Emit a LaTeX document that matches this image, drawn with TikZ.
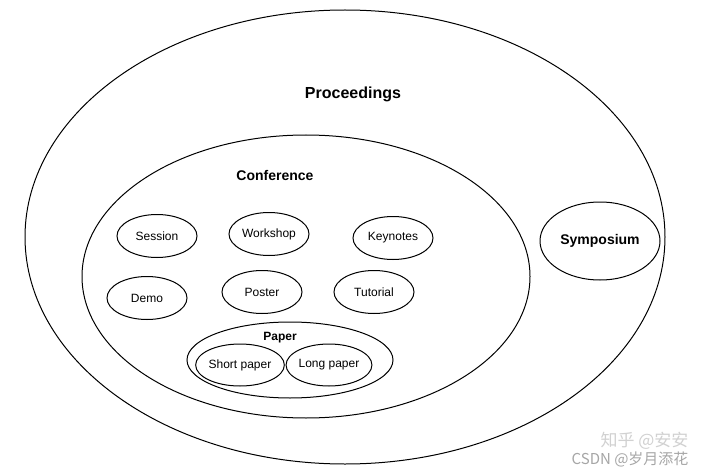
\documentclass[tikz,border=0pt]{standalone}
\usepackage{fontspec}
\setmainfont{Liberation Sans}
\newfontfamily\cjk{Noto Sans CJK SC}
\usetikzlibrary{shapes.geometric}
\begin{document}
\begin{tikzpicture}[x=1pt,y=-1pt,
  oval/.style={draw=black,line width=1pt,ellipse,inner sep=0pt},
  item/.style={oval,minimum width=80pt,minimum height=43pt,font=\fontsize{12}{14}\selectfont},
  title/.style={font=\bfseries\fontsize{14}{16}\selectfont}]
\useasboundingbox (0,0) rectangle (704,476);
\fill[white] (0,0) rectangle (704,476);
% outer
\node[oval,minimum width=640pt,minimum height=454pt] (proc) at (345,237) {};
\node[font=\bfseries\fontsize{16}{18}\selectfont] (proclbl) at (353,94) {Proceedings};
% conference
\node[oval,minimum width=448pt,minimum height=283pt] (conf) at (306,276.5) {};
\node[title] (conflbl) at (275,175) {Conference};
% symposium
\node[oval,minimum width=120pt,minimum height=78pt,title] (symp) at (600,241) {Symposium};
% items
\node[item] (session) at (157,236) {Session};
\node[item] (workshop) at (269,234) {Workshop};
\node[item] (keynotes) at (393,238) {Keynotes};
\node[item] (demo) at (147,298) {Demo};
\node[item] (poster) at (262,292) {Poster};
\node[item] (tutorial) at (374,292) {Tutorial};
% paper
\node[oval,minimum width=206pt,minimum height=76pt] (paper) at (290,360) {};
\node[font=\bfseries\fontsize{12}{14}\selectfont] (paperlbl) at (280,338) {Paper};
\node[item,minimum height=42pt] (short) at (240,365) {Short paper};
\node[item,minimum height=42pt] (long) at (329,365) {Long paper};
% watermark
\node[text=black!18,font=\cjk\fontsize{17}{19}\selectfont,anchor=east] (wm1) at (692,441) {知乎 @安安};
\node[text=black!35,font=\cjk\fontsize{15}{17}\selectfont,anchor=east] (wm2) at (692,459) {CSDN @岁月添花};
\end{tikzpicture}
\end{document}
